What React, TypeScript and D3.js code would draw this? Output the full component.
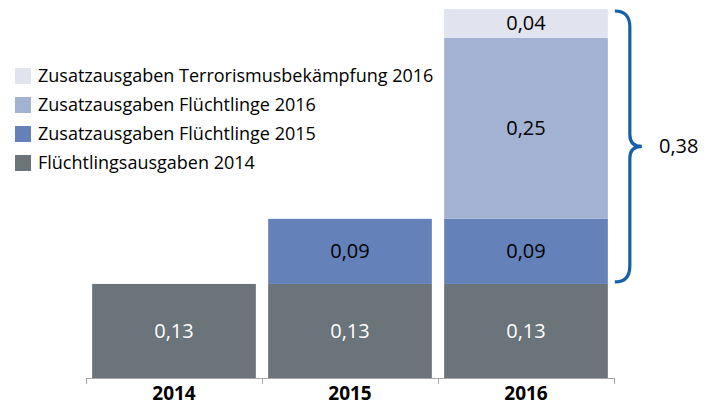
import React, { useRef, useEffect } from "react";
import * as d3 from "d3";

const WIDTH = 704;
const HEIGHT = 405;
const MARGIN = { top: 9, right: 90, bottom: 27, left: 86 };

const years = ["2014", "2015", "2016"];
const seriesNames = [
  "Flüchtlingsausgaben 2014",
  "Zusatzausgaben Flüchtlinge 2015",
  "Zusatzausgaben Flüchtlinge 2016",
  "Zusatzausgaben Terrorismusbekämpfung 2016",
];
const seriesColors = ["#6a747a", "#6482b9", "#a3b2d3", "#e1e4ef"];
const labelColors = ["#ffffff", "#000000", "#000000", "#000000"];
// values per year, one array per series
const base2014 = [0.13, 0.13, 0.13];
const extra2015 = [0, 0.09, 0.09];
const extra2016 = [0, 0, 0.25];
const terror2016 = [0, 0, 0.04];
const braceLabel = "0,38";

const fmt = (v: number) => v.toFixed(2).replace(".", ",");

export default function App() {
  const svgRef = useRef<SVGSVGElement | null>(null);

  useEffect(() => {
    const svg = d3.select(svgRef.current);
    svg.selectAll("*").remove();
    const font = "'Open Sans', 'Liberation Sans', sans-serif";

    const rows = years.map((y, i) => ({
      year: y,
      s0: base2014[i],
      s1: extra2015[i],
      s2: extra2016[i],
      s3: terror2016[i],
    }));
    const keys = ["s0", "s1", "s2", "s3"];
    const stacked = d3.stack<any>().keys(keys)(rows);

    const x = d3
      .scaleBand()
      .domain(years)
      .range([MARGIN.left, 614])
      .paddingInner(0.07)
      .paddingOuter(0.035);
    const y = d3
      .scaleLinear()
      .domain([0, 0.51])
      .range([HEIGHT - MARGIN.bottom, MARGIN.top]);

    // bars
    stacked.forEach((layer, k) => {
      const g = svg.append("g");
      layer.forEach((d, i) => {
        if (d[1] - d[0] <= 0) return;
        const yr = years[i];
        g.append("rect")
          .attr("x", x(yr)!)
          .attr("y", y(d[1]))
          .attr("width", x.bandwidth())
          .attr("height", y(d[0]) - y(d[1]))
          .attr("fill", seriesColors[k]);
        g.append("text")
          .attr("x", x(yr)! + x.bandwidth() / 2)
          .attr("y", (y(d[0]) + y(d[1])) / 2)
          .attr("dy", "0.35em")
          .attr("text-anchor", "middle")
          .attr("font-family", font)
          .attr("font-size", 20)
          .attr("fill", labelColors[k])
          .text(fmt(d[1] - d[0]));
      });
    });

    // axis
    const axisY = y(0);
    const x0 = x.range()[0];
    const x1 = x.range()[1];
    const step = x.step();
    const ax = svg.append("g").attr("stroke", "#a6a6a6").attr("stroke-width", 1);
    ax.append("line")
      .attr("x1", x0)
      .attr("x2", x1)
      .attr("y1", axisY + 0.5)
      .attr("y2", axisY + 0.5);
    d3.range(years.length + 1).forEach((i) => {
      const tx = Math.round(x0 + i * step) + 0.5;
      ax.append("line")
        .attr("x1", tx)
        .attr("x2", tx)
        .attr("y1", axisY)
        .attr("y2", axisY + 6);
    });
    svg
      .append("g")
      .selectAll("text")
      .data(years)
      .enter()
      .append("text")
      .attr("x", (d) => x(d)! + x.bandwidth() / 2)
      .attr("y", axisY + 22)
      .attr("text-anchor", "middle")
      .attr("font-family", font)
      .attr("font-size", 19)
      .attr("font-weight", "bold")
      .attr("fill", "#000")
      .text((d) => d);

    // brace around 2016 additions
    const last = years[years.length - 1];
    const bx = x(last)! + x.bandwidth() + 7;
    const top = y(0.51) + 2;
    const bot = y(0.13) - 2;
    const mid = (top + bot) / 2;
    const w = 15;
    const tip = 12;
    const p = d3.path();
    p.moveTo(bx, top);
    p.quadraticCurveTo(bx + w, top, bx + w, top + 16);
    p.lineTo(bx + w, mid - 12);
    p.quadraticCurveTo(bx + w, mid, bx + w + tip, mid);
    p.quadraticCurveTo(bx + w, mid, bx + w, mid + 12);
    p.lineTo(bx + w, bot - 16);
    p.quadraticCurveTo(bx + w, bot, bx, bot);
    svg
      .append("path")
      .attr("d", p.toString())
      .attr("fill", "none")
      .attr("stroke", "#1560a8")
      .attr("stroke-width", 3.2);
    svg
      .append("text")
      .attr("x", 659)
      .attr("y", mid)
      .attr("dy", "0.35em")
      .attr("font-family", font)
      .attr("font-size", 20)
      .attr("fill", "#000")
      .text(braceLabel);

    // legend (top series first)
    const legendOrder = d3.range(seriesNames.length).reverse();
    const lg = svg.append("g");
    legendOrder.forEach((k, i) => {
      const ly = 76 + i * 29;
      lg.append("rect")
        .attr("x", 15)
        .attr("y", ly - 8)
        .attr("width", 16)
        .attr("height", 16)
        .attr("fill", seriesColors[k]);
      lg.append("text")
        .attr("x", 38)
        .attr("y", ly)
        .attr("dy", "0.35em")
        .attr("font-family", font)
        .attr("font-size", 18)
        .attr("fill", "#000")
        .text(seriesNames[k]);
    });
  }, []);

  return (
    <svg
      ref={svgRef}
      width={WIDTH}
      height={HEIGHT}
      style={{ position: "absolute", left: 0, top: 0, background: "#fff" }}
    />
  );
}
